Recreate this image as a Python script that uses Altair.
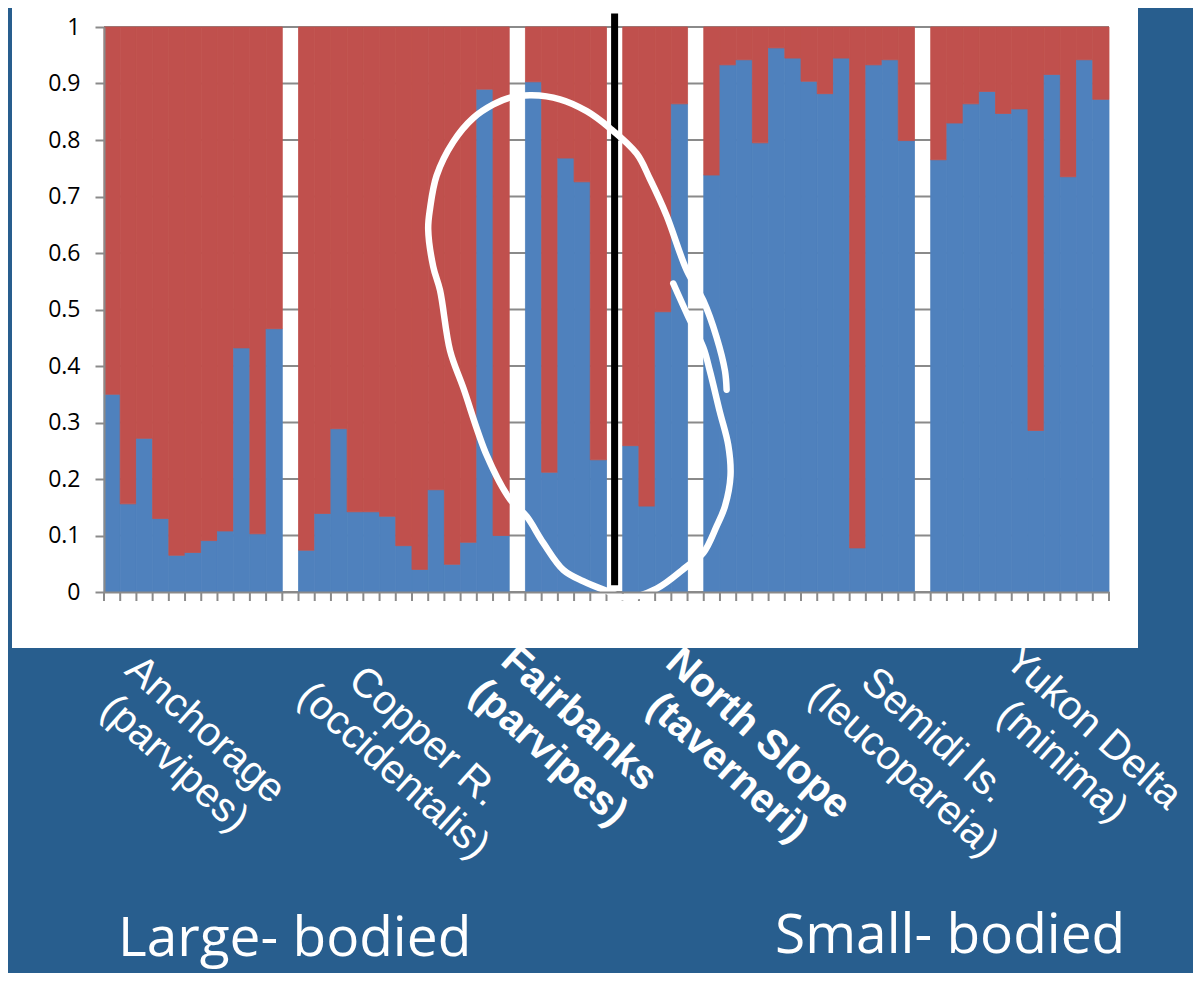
import altair as alt
import pandas as pd

# ---------------- data ----------------
group_names = ["Anchorage", "Copper R.", "Fairbanks", "North Slope", "Semidi Is.", "Yukon Delta"]
group_sub = ["(parvipes)", "(occidentalis)", "(parvipes)", "(taverneri)", "(leucopareia)", "(minima)"]
group_bold = [False, False, True, True, False, False]

anchorage = [0.35, 0.156, 0.272, 0.13, 0.065, 0.07, 0.091, 0.108, 0.432, 0.103, 0.466]
copper = [0.074, 0.139, 0.289, 0.142, 0.142, 0.134, 0.082, 0.04, 0.181, 0.049, 0.088, 0.89, 0.1]
fairbanks = [0.903, 0.212, 0.768, 0.726, 0.234]
north_slope = [0.259, 0.152, 0.496, 0.864]
semidi = [0.738, 0.933, 0.942, 0.795, 0.963, 0.945, 0.904, 0.882, 0.945, 0.078, 0.933, 0.942, 0.799]
yukon = [0.765, 0.830, 0.864, 0.886, 0.847, 0.855, 0.286, 0.916, 0.735, 0.942, 0.872]

y_ticks = [0, 0.1, 0.2, 0.3, 0.4, 0.5, 0.6, 0.7, 0.8, 0.9, 1.0]

# hand-drawn annotation loop (slot units, proportion units)
loop_x = [35.12, 36.05, 36.97, 37.38, 37.99, 38.51, 38.65, 38.31, 37.79, 36.97, 35.94, 34.09,
          32.24, 31.01, 29.57, 28.34, 27.10, 26.07, 25.05, 23.61, 22.17, 21.35, 20.73, 20.31,
          20.0, 20.11, 20.52, 21.55, 22.78, 24.02, 25.05, 26.38, 28.13, 29.78, 31.21, 32.86,
          33.68, 34.71, 35.94, 36.97, 37.79, 38.31, 38.41]
loop_y = [0.546, 0.487, 0.433, 0.391, 0.319, 0.260, 0.206, 0.152, 0.116, 0.069, 0.045, 0.006,
          -0.010, 0.002, 0.019, 0.039, 0.087, 0.134, 0.164, 0.242, 0.361, 0.427, 0.534, 0.576,
          0.642, 0.678, 0.737, 0.797, 0.839, 0.863, 0.875, 0.879, 0.872, 0.851, 0.821, 0.776,
          0.731, 0.666, 0.570, 0.516, 0.451, 0.391, 0.358]
divider_top = 1.024
divider_bottom = 0.012

# ---------------- layout / style ----------------
BG = "#285E8E"
BLUE = "#4F81BD"
RED = "#C0504D"
GRID = "#8A8A8A"
W, H = 1005, 565
OX, OY = 104, 27  # plot origin on the page
TOTAL_W, TOTAL_H = 1185, 965

# centre of the first line of each group label (page pixels)
label_cx = [205, 424, 579, 758, 934, 1093]
label_cy = [730, 737, 719, 734, 736, 728]

# ---------------- build tables ----------------
group_values = [anchorage, copper, fairbanks, north_slope, semidi, yukon]
rows = []
slot = 0
gap_slots = []
for gi, vals in enumerate(group_values):
    for v in vals:
        rows.append(dict(s0=slot, s1=slot + 1, lo=0.0, hi=v, part="a"))
        rows.append(dict(s0=slot, s1=slot + 1, lo=v, hi=1.0, part="b"))
        slot += 1
    if gi < len(group_values) - 1:
        gap_slots.append(slot)
        slot += 1
n_slots = slot
bars = pd.DataFrame(rows)

xscale = alt.Scale(domain=[0, n_slots], nice=False, zero=False)
yscale = alt.Scale(domain=[0, 1], nice=False)

xaxis = alt.Axis(labels=False, ticks=False, domainColor=GRID,
                 domainWidth=2, grid=False, title=None, zindex=1)
yaxis = alt.Axis(values=y_ticks, format=".1~f", labelFont="Open Sans",
                 labelFontSize=23, labelColor="black", labelPadding=15,
                 tickSize=9, tickColor=GRID, tickWidth=2, domainColor=GRID,
                 domainWidth=2, grid=False, title=None, zindex=1)

panel = alt.Chart(pd.DataFrame({"k": [0]})).mark_rect(color="white").encode(
    x=alt.value(12 - OX), x2=alt.value(1138 - OX),
    y=alt.value(-30), y2=alt.value(648 - OY)
)

grid = alt.Chart(pd.DataFrame({"t": y_ticks, "a": 0, "b": n_slots})).mark_rule(
    color=GRID, strokeWidth=2
).encode(
    y=alt.Y("t:Q", scale=yscale, axis=yaxis),
    x=alt.X("a:Q", scale=xscale, axis=xaxis),
    x2="b:Q",
)

# category tick marks at every slot boundary
xticks = alt.Chart(pd.DataFrame({"s": list(range(0, n_slots + 1))})).mark_rule(
    color=GRID, strokeWidth=2
).encode(x=alt.X("s:Q", scale=xscale, axis=xaxis), y=alt.value(H), y2=alt.value(H + 9))

part_scale = alt.Scale(domain=["a", "b"], range=[BLUE, RED])
bar_layer = alt.Chart(bars).mark_rect(strokeWidth=0.8).encode(
    x=alt.X("s0:Q", scale=xscale, axis=xaxis),
    x2="s1:Q",
    y=alt.Y("lo:Q", scale=yscale, axis=yaxis),
    y2="hi:Q",
    color=alt.Color("part:N", scale=part_scale, legend=None),
    stroke=alt.Stroke("part:N", scale=part_scale, legend=None),
)

divider = alt.Chart(pd.DataFrame({"x": [gap_slots[2] + 0.5], "t": [divider_top],
                                  "b": [divider_bottom]})).mark_rule(
    color="black", strokeWidth=7
).encode(x=alt.X("x:Q", scale=xscale, axis=xaxis),
         y=alt.Y("t:Q", scale=yscale, axis=yaxis), y2="b:Q")

loop = alt.Chart(pd.DataFrame({"x": loop_x, "y": loop_y, "i": range(len(loop_x))})).mark_line(
    color="white", strokeWidth=6.5, interpolate="catmull-rom", strokeCap="round"
).encode(x=alt.X("x:Q", scale=xscale, axis=xaxis),
         y=alt.Y("y:Q", scale=yscale, axis=yaxis), order="i:Q")

label_layers = []
for name, sub, bold, cx, cy in zip(group_names, group_sub, group_bold, label_cx, label_cy):
    label_layers.append(
        alt.Chart(pd.DataFrame({"t": [name + "\n" + sub]})).mark_text(
            angle=42, align="center", baseline="middle", font="Liberation Sans",
            fontSize=41, lineHeight=46, color="white", lineBreak="\n",
            fontWeight="bold" if bold else "normal"
        ).encode(text="t:N", x=alt.value(cx - OX), y=alt.value(cy - OY))
    )

big1 = alt.Chart(pd.DataFrame({"t": ["Large- bodied"]})).mark_text(
    align="left", baseline="alphabetic", font="Open Sans", fontSize=55, color="white"
).encode(text="t:N", x=alt.value(118 - OX), y=alt.value(956 - OY))
big2 = alt.Chart(pd.DataFrame({"t": ["Small- bodied"]})).mark_text(
    align="left", baseline="alphabetic", font="Open Sans", fontSize=55, color="white"
).encode(text="t:N", x=alt.value(775 - OX), y=alt.value(953 - OY))

chart = alt.layer(panel, grid, bar_layer, xticks, divider, loop, *label_layers, big1, big2).properties(
    width=W, height=H,
    autosize=alt.AutoSizeParams(type="none"),
    padding={"left": OX - 8, "top": OY - 8, "right": TOTAL_W - (OX - 8) - W,
             "bottom": TOTAL_H - (OY - 8) - H},
    background=BG,
).configure_view(stroke=None)

chart.save("out.html", embed_options={"renderer": "svg", "actions": False})
